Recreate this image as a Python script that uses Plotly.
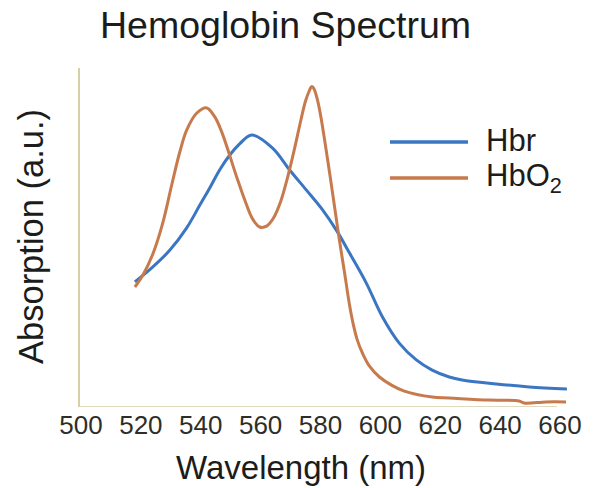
import plotly.graph_objects as go

# Deoxy-haemoglobin (Hbr) absorption, arbitrary units
hbr_wavelength = [518.0, 524.0, 529.7, 535.3, 539.7, 543.0, 546.3, 549.7, 553.0, 557.0,
                  564.0, 569.7, 575.3, 580.7, 585.7, 589.7, 595.3, 600.7, 606.3, 612.0,
                  617.3, 623.0, 627.3, 638.7, 649.7, 662.3]
hbr_absorption = [0.417, 0.467, 0.523, 0.597, 0.673, 0.730, 0.790, 0.840, 0.877, 0.907,
                  0.863, 0.790, 0.723, 0.657, 0.583, 0.513, 0.413, 0.300, 0.213, 0.157,
                  0.123, 0.100, 0.090, 0.077, 0.067, 0.060]

# Oxy-haemoglobin (HbO2) absorption, arbitrary units
hbo2_wavelength = [518.0, 520.7, 524.0, 527.3, 530.3, 533.0, 535.3, 538.7, 542.0, 544.7,
                   547.0, 552.0, 554.7, 557.3, 559.7, 562.0, 564.3, 566.7, 569.0, 571.3,
                   573.3, 575.0, 576.3, 577.0, 577.7, 579.0, 580.3, 583.3, 586.3, 588.0,
                   589.7, 591.0, 592.3, 594.0, 596.3, 599.7, 603.7, 608.0, 617.3, 623.0,
                   636.3, 646.3, 648.0, 655.3, 662.0]
hbo2_absorption = [0.400, 0.440, 0.510, 0.613, 0.740, 0.850, 0.923, 0.980, 0.997, 0.967,
                   0.917, 0.767, 0.690, 0.627, 0.600, 0.603, 0.630, 0.685, 0.765, 0.860,
                   0.950, 1.020, 1.055, 1.068, 1.063, 1.023, 0.957, 0.763, 0.557, 0.450,
                   0.340, 0.273, 0.223, 0.180, 0.137, 0.100, 0.073, 0.053, 0.033, 0.030,
                   0.023, 0.020, 0.013, 0.017, 0.017]

x_ticks = [500, 520, 540, 560, 580, 600, 620, 640, 660]

BLUE = "#3b76c3"
ORANGE = "#c77a4c"
AXIS = "#d6cfa8"
FONT = "Liberation Sans, Arial, sans-serif"
TEXT = "#1c1c1a"

fig = go.Figure()
fig.add_trace(go.Scatter(x=hbr_wavelength, y=hbr_absorption, mode="lines",
                         line=dict(color=BLUE, width=3, shape="spline", smoothing=1.0),
                         name="Hbr", showlegend=False))
fig.add_trace(go.Scatter(x=hbo2_wavelength, y=hbo2_absorption, mode="lines",
                         line=dict(color=ORANGE, width=3, shape="spline", smoothing=1.0),
                         name="HbO2", showlegend=False))

fig.update_layout(
    width=597, height=488,
    margin=dict(l=80, r=28, t=68, b=81),
    paper_bgcolor="white", plot_bgcolor="white",
    font=dict(family=FONT, color=TEXT),
    xaxis=dict(range=[499.67, 663], tickvals=x_ticks, ticktext=[str(v) for v in x_ticks],
               showgrid=False, zeroline=False, showline=False, ticks="",
               tickfont=dict(size=26, color="#2e2e28")),
    yaxis=dict(range=[0, 1.13], showgrid=False, zeroline=False, showline=True,
               linecolor=AXIS, linewidth=1.5, ticks="", showticklabels=False),
    shapes=[
        # x-axis baseline
        dict(type="line", xref="x", yref="y", x0=499.67, x1=659, y0=0, y1=0,
             line=dict(color=AXIS, width=1.5)),
        # legend swatches
        dict(type="line", xref="paper", yref="paper",
             x0=(390 - 80) / 489, x1=(468 - 80) / 489,
             y0=(407 - 142) / 339, y1=(407 - 142) / 339,
             line=dict(color=BLUE, width=3.5)),
        dict(type="line", xref="paper", yref="paper",
             x0=(390 - 80) / 489, x1=(468 - 80) / 489,
             y0=(407 - 178) / 339, y1=(407 - 178) / 339,
             line=dict(color=ORANGE, width=3.5)),
    ],
    annotations=[
        dict(text="Hemoglobin Spectrum", xref="paper", yref="paper",
             x=(285 - 80) / 489, y=(407 - 25) / 339, xanchor="center", yanchor="middle",
             showarrow=False, font=dict(size=37.5, color=TEXT)),
        dict(text="Wavelength (nm)", xref="paper", yref="paper",
             x=(301 - 80) / 489, y=(407 - 467) / 339, xanchor="center", yanchor="middle",
             showarrow=False, font=dict(size=33, color=TEXT)),
        dict(text="Absorption (a.u.)", xref="paper", yref="paper", textangle=-90,
             x=(31 - 80) / 489, y=(407 - 237) / 339, xanchor="center", yanchor="middle",
             showarrow=False, font=dict(size=34.5, color=TEXT)),
        dict(text="Hbr", xref="paper", yref="paper",
             x=(484 - 80) / 489, y=(407 - 140) / 339, xanchor="left", yanchor="middle",
             showarrow=False, font=dict(size=31, color=TEXT)),
        dict(text="HbO<sub>2</sub>", xref="paper", yref="paper",
             x=(484 - 80) / 489, y=(407 - 178) / 339, xanchor="left", yanchor="middle",
             showarrow=False, font=dict(size=31, color=TEXT)),
    ],
)

fig.write_html("out.html")
